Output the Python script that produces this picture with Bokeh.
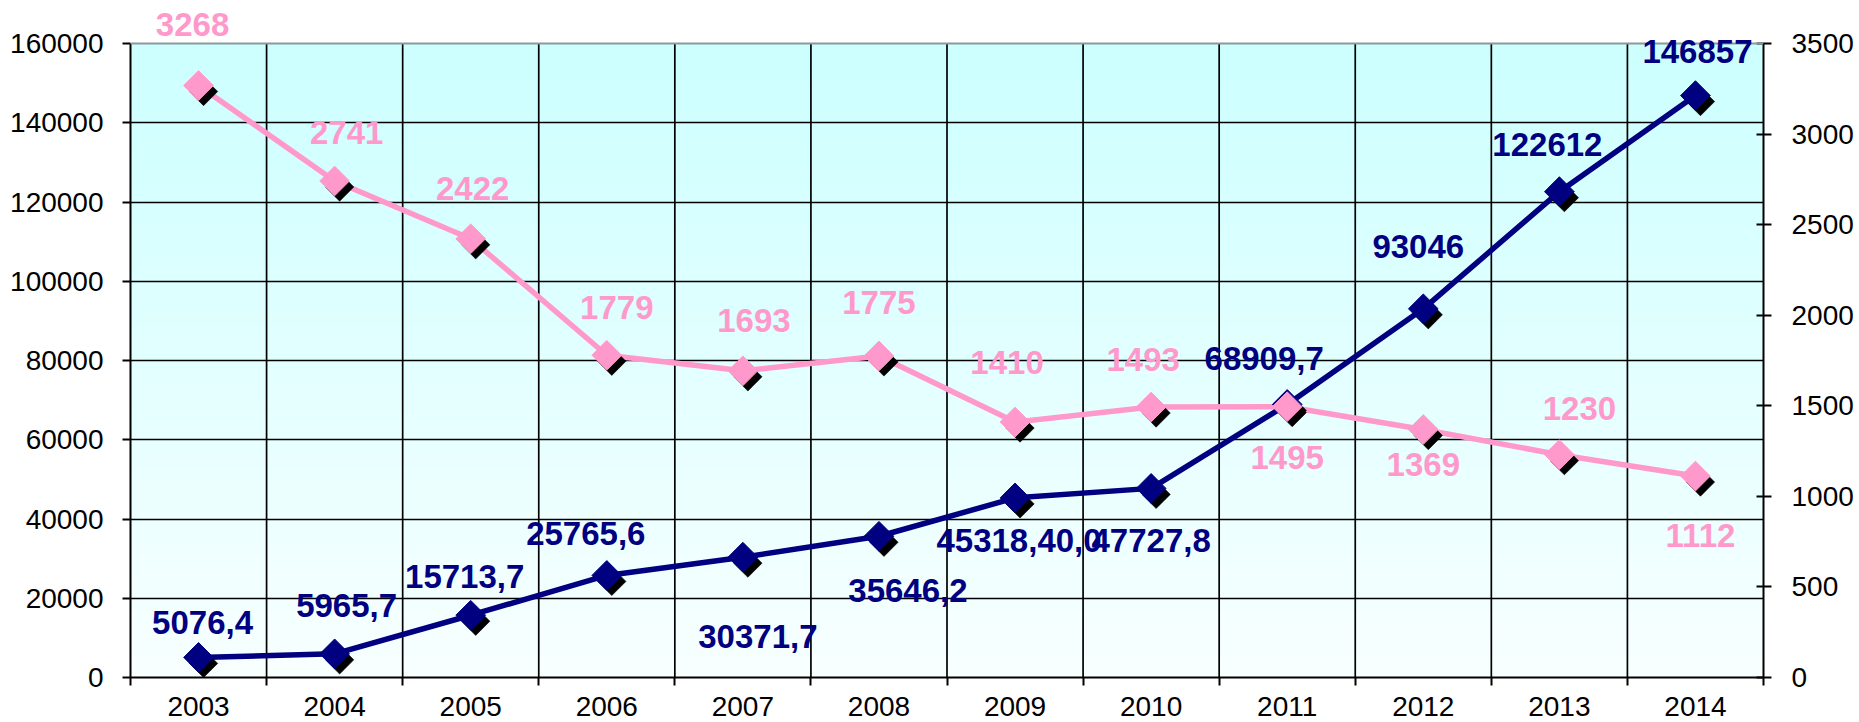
import numpy as np
from bokeh.plotting import figure
from bokeh.models import (Range1d, LinearAxis, FixedTicker, BasicTickFormatter,
                          ColumnDataSource, Label, Span)
from bokeh.transform import dodge
from bokeh.embed import file_html
from bokeh.resources import INLINE

# ---------------- data ----------------
years = [2003, 2004, 2005, 2006, 2007, 2008, 2009, 2010, 2011, 2012, 2013, 2014]
volume = [5076.4, 5965.7, 15713.7, 25765.6, 30371.7, 35646.2, 45318.4, 47727.8,
          68909.7, 93046, 122612, 146857]
volume_labels = ["5076,4", "5965,7", "15713,7", "25765,6", "30371,7", "35646,2",
                 "45318,40,0", "47727,8", "68909,7", "93046", "122612", "146857"]
count = [3268, 2741, 2422, 1779, 1693, 1775, 1410, 1493, 1495, 1369, 1230, 1112]
count_labels = [str(v) for v in count]
left_ticks = [0, 20000, 40000, 60000, 80000, 100000, 120000, 140000, 160000]
right_ticks = [0, 500, 1000, 1500, 2000, 2500, 3000, 3500]

# ---------------- layout / styles ----------------
PLOT_W, PLOT_H = 1633, 634      # drawn chart area (pixels)
HEADROOM = 43                   # space above chart area kept inside the frame
NAVY = "#000080"
PINK = "#FF99CC"
FONT = "Liberation Sans"
AXIS_FS = "28px"

# label offsets in screen pixels (dx right, dy up)
vol_dx = [4, 12, -6, -21, 15, 29, 4, 0, -23, -5, -12, 2]
vol_dy = [35, 48, 39, 42, -79, -54, -43, -52, 46, 62, 47, 44]
cnt_dx = [-6, 12, 2, 10, 11, 0, -8, -8, 0, 0, 20, 5]
cnt_dy = [61, 48, 50, 48, 50, 53, 60, 48, -51, -35, 46, -59]

x0 = years[0] - 0.5
x1 = years[-1] + 0.5
boundaries = [y - 0.5 for y in years] + [x1]
inner = boundaries[1:-1]

lmin, lmax = left_ticks[0], left_ticks[-1]
rmin, rmax = right_ticks[0], right_ticks[-1]
scale_up = (PLOT_H + HEADROOM) / PLOT_H

p = figure(frame_width=PLOT_W, frame_height=PLOT_H + HEADROOM,
           x_range=Range1d(x0, x1), y_range=Range1d(lmin, lmin + (lmax - lmin) * scale_up),
           output_backend="svg", toolbar_location=None,
           min_border_left=130, min_border_right=96, min_border_top=0, min_border_bottom=45)
p.extra_y_ranges = {"right": Range1d(rmin, rmin + (rmax - rmin) * scale_up)}
p.background_fill_color = "white"
p.border_fill_color = "white"
p.outline_line_color = None

# background gradient
n = 256
img = np.empty((n, 1), dtype=np.uint32)
view = img.view(dtype=np.uint8).reshape((n, 1, 4))
t = np.linspace(0, 1, n)  # 0 bottom -> 1 top
bottom_rgb = np.array([0xF8, 0xFF, 0xFF])
top_rgb = np.array([0xCC, 0xFF, 0xFF])
for i in range(n):
    c = bottom_rgb + (top_rgb - bottom_rgb) * t[i]
    view[i, 0, 0] = int(round(c[0]))
    view[i, 0, 1] = int(round(c[1]))
    view[i, 0, 2] = int(round(c[2]))
    view[i, 0, 3] = 255
p.image_rgba(image=[img], x=x0, y=lmin, dw=x1 - x0, dh=lmax - lmin, level="image")

# grids
p.xgrid.grid_line_color = None
p.ygrid.ticker = FixedTicker(ticks=left_ticks[:-1])
p.ygrid.grid_line_color = "black"
p.ygrid.grid_line_width = 1.7
p.segment(x0=inner, y0=[lmin] * len(inner), x1=inner, y1=[lmax] * len(inner),
          line_color="black", line_width=1.7)
p.add_layout(Span(location=lmax, dimension="width", line_color="#8a9a9a", line_width=2))

# x axis
xa = p.xaxis[0]
xa.ticker = FixedTicker(ticks=years, minor_ticks=boundaries)
xa.major_tick_line_color = None
xa.major_tick_out = 0
xa.major_tick_in = 0
xa.minor_tick_line_color = "black"
xa.minor_tick_line_width = 2
xa.minor_tick_out = 8
xa.minor_tick_in = 0
xa.axis_line_color = "black"
xa.axis_line_width = 2
xa.major_label_standoff = 11
xa.major_label_text_font = FONT
xa.major_label_text_font_size = AXIS_FS
xa.major_label_text_color = "black"
xa.formatter = BasicTickFormatter(use_scientific=False)

# left axis
ya = p.yaxis[0]
ya.bounds = (lmin, lmax)
ya.ticker = FixedTicker(ticks=left_ticks)
ya.formatter = BasicTickFormatter(use_scientific=False)
ya.major_tick_out = 8
ya.major_tick_in = 0
ya.major_tick_line_width = 2
ya.minor_tick_line_color = None
ya.axis_line_color = "black"
ya.axis_line_width = 2
ya.major_label_standoff = 19
ya.major_label_text_font = FONT
ya.major_label_text_font_size = AXIS_FS
ya.major_label_text_color = "black"

# right axis
ra = LinearAxis(y_range_name="right", ticker=FixedTicker(ticks=right_ticks),
                formatter=BasicTickFormatter(use_scientific=False), bounds=(rmin, rmax))
ra.major_tick_out = 8
ra.major_tick_in = 7
ra.major_tick_line_width = 2
ra.minor_tick_line_color = None
ra.axis_line_color = "black"
ra.axis_line_width = 2
ra.major_label_standoff = 20
ra.major_label_text_font = FONT
ra.major_label_text_font_size = AXIS_FS
ra.major_label_text_color = "black"
p.add_layout(ra, "right")

# sources
src_v = ColumnDataSource(dict(x=years, y=volume))
src_c = ColumnDataSource(dict(x=years, y=count))

# pixel -> data conversions for marker shadow
sx = 5 * (x1 - x0) / PLOT_W
sy_left = -6 * (lmax - lmin) / PLOT_H
sy_right = -6 * (rmax - rmin) / PLOT_H

# lines
p.line("x", "y", source=src_c, y_range_name="right", line_color=PINK, line_width=5.5)
p.line("x", "y", source=src_v, line_color=NAVY, line_width=5.5)

# markers with shadows
p.scatter(x=dodge("x", sx), y=dodge("y", sy_left), source=src_v, marker="square",
          angle=np.pi / 4, size=20, fill_color="black", line_color="black", line_alpha=0.6)
p.scatter("x", "y", source=src_v, marker="square", angle=np.pi / 4, size=21,
          fill_color=NAVY, line_color=NAVY)
p.scatter(x=dodge("x", sx), y=dodge("y", sy_right), source=src_c, y_range_name="right",
          marker="square", angle=np.pi / 4, size=20, fill_color="black", line_color="black",
          line_alpha=0.6)
p.scatter("x", "y", source=src_c, y_range_name="right", marker="square", angle=np.pi / 4,
          size=21, fill_color=PINK, line_color=PINK)

# data labels
for xv, yv, txt, dx, dy in zip(years, volume, volume_labels, vol_dx, vol_dy):
    p.add_layout(Label(x=xv, y=yv, text=txt, x_offset=dx, y_offset=dy,
                       text_align="center", text_baseline="middle", text_font=FONT,
                       text_font_style="bold", text_font_size="33px", text_color=NAVY))
for xv, yv, txt, dx, dy in zip(years, count, count_labels, cnt_dx, cnt_dy):
    p.add_layout(Label(x=xv, y=yv, text=txt, x_offset=dx, y_offset=dy, y_range_name="right",
                       text_align="center", text_baseline="middle", text_font=FONT,
                       text_font_style="bold", text_font_size="33px", text_color=PINK))

open("out.html", "w").write(file_html(p, INLINE))
